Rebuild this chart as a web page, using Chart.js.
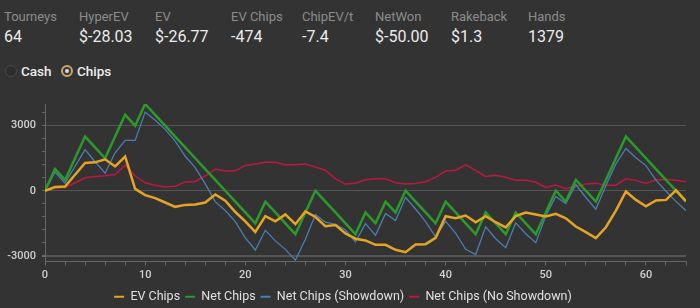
<!DOCTYPE html>
<html>
<head>
<meta charset="utf-8">
<script src="https://cdn.jsdelivr.net/npm/chart.js@4.4.1/dist/chart.umd.min.js"></script>
<style>
  html, body { margin: 0; padding: 0; background: #333333; overflow: hidden; }
  body { width: 700px; height: 308px; position: relative; font-family: Roboto, "Open Sans", sans-serif; }
  .stat { position: absolute; top: 9px; }
  .stat .lbl { font-size: 13px; color: #8c8c8c; line-height: 16px; }
  .stat .val { font-size: 16px; color: #ececec; line-height: 20px; margin-top: 2px; }
  .radios { position: absolute; top: 63px; left: 5px; font-size: 13.5px; color: #ececec; font-weight: 500; }
  .radio { display: inline-flex; align-items: center; margin-right: 6px; }
  .dot { width: 12px; height: 12px; border-radius: 50%; box-sizing: border-box; margin-right: 4px; position: relative; }
  .dot.off { border: 1px solid #4a4a4a; background: #2d2d2d; }
  .dot.on { border: 2px solid #c9a46a; background: #3a3a3a; }
  .dot.on::after { content: ""; position: absolute; left: 2px; top: 2px; width: 4px; height: 4px; border-radius: 50%; background: #d8d8d8; }
  #wrap { position: absolute; left: 0; top: 91px; width: 700px; height: 222px; }
</style>
</head>
<body>
<div id="stats"></div>
<div class="radios">
  <span class="radio"><span class="dot off"></span>Cash</span>
  <span class="radio"><span class="dot on"></span>Chips</span>
</div>
<div id="wrap"><canvas id="chipsChart"></canvas></div>
<script>
// ── DATA ───────────────────────────────────────────────────────────────────
const statLabels = ["Tourneys", "HyperEV", "EV", "EV Chips", "ChipEV/t", "NetWon", "Rakeback", "Hands"];
const statValues = ["64", "$-28.03", "$-26.77", "-474", "-7.4", "$-50.00", "$1.3", "1379"];
const statLeft   = [4, 79, 155, 231, 302, 375, 451, 528];

const tourneyNo = [0, 1, 2, 3, 4, 5, 6, 7, 8, 9, 10, 11, 12, 13, 14, 15, 16, 17, 18, 19, 20,
  21, 22, 23, 24, 25, 26, 27, 28, 29, 30, 31, 32, 33, 34, 35, 36, 37, 38, 39, 40,
  41, 42, 43, 44, 45, 46, 47, 48, 49, 50, 51, 52, 53, 54, 55, 56, 57, 58, 59, 60,
  61, 62, 63, 64];

const evChips = [0, 170, 200, 740, 1280, 1310, 1450, 1120, 1580, 90, -200,
  -340, -540, -740, -650, -630, -540, -170, -460, -980, -1410,
  -1900, -1170, -1410, -1090, -1540, -950, -1210, -1630, -1580, -1970,
  -2210, -2290, -2490, -2490, -2720, -2830, -2480, -2460, -2170, -1170,
  -1260, -1140, -1450, -1170, -1450, -1690, -1170, -1000, -1090, -1180,
  -1060, -1270, -1650, -1910, -2180, -1680, -910, -30, -420, -720,
  -450, -420, 20, -480];

const netChips = [0, 1000, 500, 1500, 2500, 2000, 1500, 2500, 3500, 3000, 4000,
  3500, 3000, 2500, 2000, 1500, 1000, 500, 0, -500, -1000,
  -1500, -500, -1000, -1500, -2000, -1000, 0, -500, -1000, -1500,
  -2000, -1000, -1500, -500, -1000, 0, -500, -1000, -1500, -500,
  -1000, -1500, -2000, -1000, -1500, -2000, -1000, -1500, -2000, -1000,
  0, -500, 500, 0, -500, 500, 1500, 2500, 2000, 1500,
  1000, 500, 0, -500];

const netShowdown = [0, 860, 350, 1130, 1900, 1340, 810, 1750, 2320, 2320, 3630,
  3250, 2830, 2290, 1590, 1070, 320, -500, -910, -1420, -2170,
  -2730, -1820, -2310, -2700, -3200, -2230, -1090, -1450, -1550, -1810,
  -2350, -1510, -2050, -1050, -1370, -310, -840, -1420, -2120, -1410,
  -1950, -2700, -2940, -1660, -2210, -2620, -1480, -1980, -2390, -1150,
  -260, -590, 290, -310, -850, 240, 1240, 1950, 1520, 1160,
  490, -20, -490, -920];

const netNoShowdown = [0, 140, 150, 370, 600, 660, 690, 750, 1180, 680, 370,
  250, 170, 210, 410, 430, 680, 1000, 910, 920, 1170,
  1230, 1320, 1310, 1200, 1200, 1230, 1090, 950, 550, 310,
  350, 510, 550, 550, 370, 310, 340, 420, 620, 910,
  950, 1200, 940, 660, 710, 620, 480, 480, 390, 150,
  260, 90, 210, 310, 350, 260, 260, 550, 480, 340,
  510, 520, 490, 420];

const yMajor = [-3000, 0, 3000];

// ── HEADER ─────────────────────────────────────────────────────────────────
const statsEl = document.getElementById("stats");
statLabels.forEach((l, i) => {
  const d = document.createElement("div");
  d.className = "stat";
  d.style.left = statLeft[i] + "px";
  d.innerHTML = `<div class="lbl">${l}</div><div class="val">${statValues[i]}</div>`;
  statsEl.appendChild(d);
});

// ── CHART ──────────────────────────────────────────────────────────────────
Chart.defaults.font.family = "Roboto, 'Open Sans', sans-serif";
Chart.defaults.color = "#d0d0d0";
const gridColor = "#555555";
const axisColor = "#676767";

const line = (label, data, color, width) => ({
  label, data,
  borderColor: color, backgroundColor: color,
  borderWidth: width, pointRadius: 0, tension: 0, fill: false,
});

new Chart(document.getElementById("chipsChart"), {
  type: "line",
  data: {
    labels: tourneyNo,
    datasets: [
      line("EV Chips", evChips, "#e5a524", 2.5),
      line("Net Chips", netChips, "#2b9a2a", 2.5),
      line("Net Chips (Showdown)", netShowdown, "#4a7eb0", 1.3),
      line("Net Chips (No Showdown)", netNoShowdown, "#c0173f", 1.5),
    ],
  },
  options: {
    responsive: true, maintainAspectRatio: false, animation: false,
    layout: { padding: { top: 13, right: 14, left: 0, bottom: 0 } },
    plugins: {
      tooltip: { enabled: false },
      legend: {
        position: "bottom",
        labels: {
          color: "#e0e0e0", boxWidth: 10, boxHeight: 2, padding: 5,
          font: { size: 12.5 },
          generateLabels: chart => Chart.defaults.plugins.legend.labels.generateLabels(chart)
            .map(l => ({ ...l, lineWidth: 0 })),
        },
      },
    },
    scales: {
      x: {
        type: "linear", min: 0, max: 64,
        afterFit: s => { s.height = 24; },
        grid: { drawOnChartArea: false, color: axisColor, tickLength: 4 },
        border: { color: axisColor },
        ticks: {
          stepSize: 2, autoSkip: false, maxRotation: 0, padding: 3,
          color: "#d0d0d0", font: { size: 11, weight: "500" },
          callback: v => (v % 10 === 0 ? String(v) : ""),
        },
      },
      y: {
        min: -3260, max: 4000,
        afterFit: s => { s.width = 45; },
        afterBuildTicks: s => {
          const t = [];
          for (let v = -3000; v <= 3600; v += 600) t.push({ value: v });
          s.ticks = t;
        },
        grid: {
          color: c => (c.tick && yMajor.includes(c.tick.value) ? gridColor : "rgba(0,0,0,0)"),
          tickColor: axisColor,
          lineWidth: c => (c.tick && c.tick.value === -3000 ? 2 : 1),
          tickLength: 3,
        },
        border: { color: axisColor },
        ticks: {
          autoSkip: false, padding: 6, color: "#d0d0d0", font: { size: 11, weight: "500" },
          callback: v => (yMajor.includes(v) ? String(v) : ""),
        },
      },
    },
  },
});
</script>
</body>
</html>
